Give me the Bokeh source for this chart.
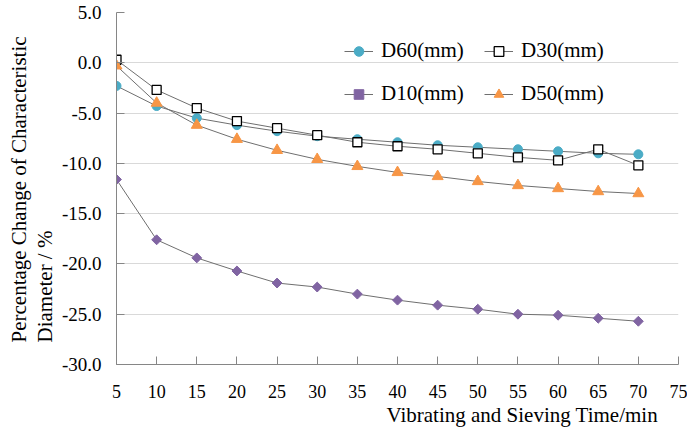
import numpy as np
from bokeh.plotting import figure
from bokeh.models import (Range1d, FixedTicker, NumeralTickFormatter, Legend, LegendItem, Title)
from bokeh.embed import file_html
from bokeh.resources import INLINE

# ---- data ----
time_min = [5, 10, 15, 20, 25, 30, 35, 40, 45, 50, 55, 60, 65, 70]
d60 = [-2.3, -4.3, -5.5, -6.2, -6.8, -7.3, -7.6, -7.9, -8.2, -8.4, -8.6, -8.8, -9.0, -9.1]
d30 = [0.3, -2.7, -4.5, -5.8, -6.5, -7.2, -7.9, -8.3, -8.6, -9.0, -9.4, -9.7, -8.6, -10.2]
d10 = [-11.6, -17.6, -19.4, -20.7, -21.9, -22.3, -23.0, -23.6, -24.1, -24.5, -25.0, -25.1, -25.4, -25.7]
d50 = [-0.3, -4.0, -6.2, -7.6, -8.7, -9.6, -10.3, -10.9, -11.3, -11.8, -12.2, -12.5, -12.8, -13.0]
x_ticks = [5, 10, 15, 20, 25, 30, 35, 40, 45, 50, 55, 60, 65, 70, 75]
y_ticks = [5, 0, -5, -10, -15, -20, -25, -30]
x_title = "Vibrating and Sieving Time/min"
y_title = "Percentage Change of Characteristic\nDiameter / %"

FONT = "Liberation Serif"
LINE_COLOR = "#6f6f6f"

W, H = 687, 429
BL, BR, BT, BB = 116, 9, 12, 65

p = figure(width=W, height=H, output_backend="svg", toolbar_location=None,
           x_range=Range1d(5, 75), y_range=Range1d(-30, 5),
           min_border_left=BL, min_border_right=BR, min_border_top=BT, min_border_bottom=BB)
p.outline_line_color = None
p.background_fill_color = "white"
p.border_fill_color = "white"

# grid
p.xgrid.grid_line_color = None
p.ygrid.grid_line_color = "#d9d9d9"
p.ygrid.grid_line_width = 1
p.ygrid.ticker = FixedTicker(ticks=y_ticks)

# axes
for ax in (p.xaxis[0], p.yaxis[0]):
    ax.axis_line_color = "#868686"
    ax.axis_line_width = 1
    ax.major_tick_line_color = "#868686"
    ax.major_tick_in = 8
    ax.major_tick_out = 0
    ax.minor_tick_line_color = None
    ax.major_label_text_font = FONT
    ax.major_label_text_color = "black"
p.xaxis.major_label_text_font_size = "18px"
p.yaxis.major_label_text_font_size = "19px"
p.xaxis.ticker = FixedTicker(ticks=x_ticks)
p.yaxis.ticker = FixedTicker(ticks=y_ticks)
p.yaxis.formatter = NumeralTickFormatter(format="0.0")
p.xaxis.major_label_standoff = 20
p.yaxis.major_label_standoff = 15

series = [
    ("D60(mm)", d60, dict(marker="circle", size=9, fill_color="#4bacc6", line_color="#4bacc6")),
    ("D30(mm)", d30, dict(marker="square", size=9, fill_color="white", line_color="black", line_width=1.3)),
    ("D10(mm)", d10, dict(marker="square", size=7, angle=np.pi / 4, fill_color="#8064a2", line_color="#8064a2")),
    ("D50(mm)", d50, dict(marker="triangle", size=11, fill_color="#f79646", line_color="#f79646")),
]

items = []
for name, vals, mk in series:
    ln = p.line(time_min, vals, line_color=LINE_COLOR, line_width=1)
    sc = p.scatter(time_min, vals, **mk)
    items.append(LegendItem(label=name, renderers=[ln, sc]))

legend = Legend(items=items, orientation="horizontal", ncols=2,
                label_text_font=FONT, label_text_font_size="21px", label_text_color="black",
                glyph_width=29, glyph_height=24, label_height=24, label_width=85,
                label_standoff=8, spacing=18, padding=0, margin=0,
                background_fill_alpha=0, border_line_alpha=0,
                location=(228, 258))
p.add_layout(legend, "center")

# axis titles as Title annotations in side panels
p.add_layout(Title(text=x_title, align="left", offset=270, text_font=FONT,
                   text_font_size="21px", text_font_style="normal", text_color="black",
                   standoff=1), "below")
p.add_layout(Title(text=y_title, align="left", offset=22, text_font=FONT,
                   text_font_size="21px", text_font_style="normal", text_color="black",
                   text_line_height=1.1, standoff=3), "left")

open("out.html", "w").write(file_html(p, INLINE))
